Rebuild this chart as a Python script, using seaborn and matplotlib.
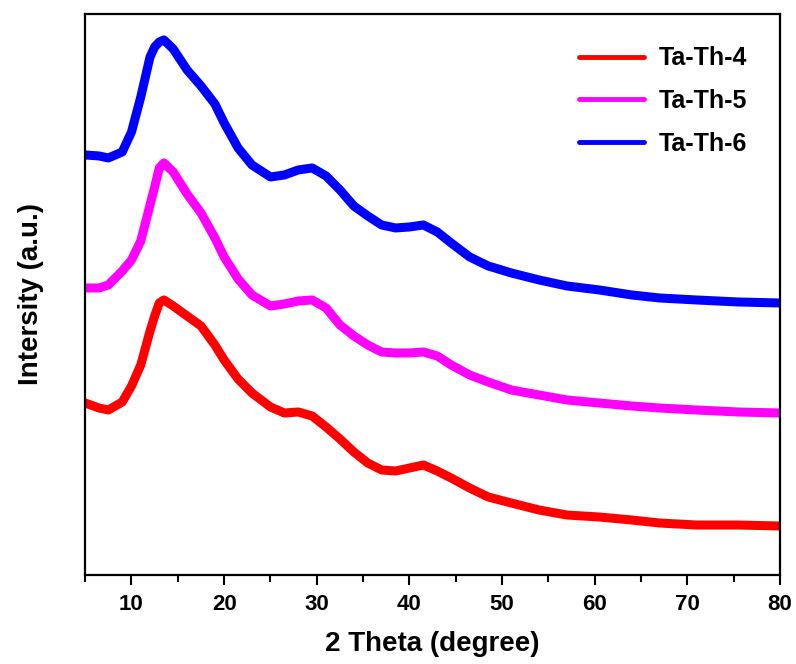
import numpy as np
import pandas as pd
import seaborn as sns
import matplotlib.pyplot as plt
from matplotlib.ticker import MultipleLocator

# 2 theta positions (degree)
two_theta = [5, 6.5, 7.5, 9, 10, 11, 12, 12.5, 13, 13.5, 14.5, 16, 17.5, 19, 20,
             21.5, 23, 25, 26.5, 28, 29.5, 31, 32.5, 34, 35.5, 37, 38.5, 40,
             41.5, 43, 44.5, 46.5, 48.5, 51, 54, 57, 60.5, 64, 67, 71, 75.5, 80]

# stacked intensities (a.u.), offsets included as plotted
ta_th_4 = [172, 167, 165, 173, 189, 210, 244, 259, 272, 275, 269, 259, 249, 230,
           215, 196, 182, 168, 162, 163, 159, 148, 136, 123, 112, 105, 104, 107,
           110, 104, 97, 87, 78, 72, 65, 60, 58, 55, 52, 50, 50, 49]
ta_th_5 = [287, 287, 290, 304, 315, 334, 370, 388, 407, 412, 403, 381, 362, 337,
           318, 296, 280, 269, 271, 274, 275, 267, 250, 239, 230, 223, 222, 222,
           223, 219, 210, 200, 193, 185, 180, 175, 172, 169, 167, 165, 163, 162]
ta_th_6 = [420, 419, 417, 423, 443, 478, 518, 528, 533, 535, 526, 505, 489, 471,
           452, 427, 410, 398, 400, 405, 407, 399, 385, 369, 359, 350, 347, 348,
           350, 343, 332, 318, 309, 302, 295, 289, 285, 280, 277, 275, 273, 272]

samples = ['Ta-Th-4', 'Ta-Th-5', 'Ta-Th-6']
colors = ['#ff0000', '#ff00ff', '#0000ff']

df = pd.DataFrame({
    'two_theta': two_theta * 3,
    'intensity': ta_th_4 + ta_th_5 + ta_th_6,
    'sample': np.repeat(samples, len(two_theta)),
})

sns.set_theme(style='ticks')
plt.rcParams['font.family'] = ['Liberation Sans', 'DejaVu Sans']
plt.rcParams['font.weight'] = 'bold'
plt.rcParams['text.color'] = 'black'
plt.rcParams['axes.labelcolor'] = 'black'
plt.rcParams['xtick.color'] = 'black'
plt.rcParams['ytick.color'] = 'black'

fig = plt.figure(figsize=(7.96, 6.64), dpi=100)
ax = fig.add_axes([0.107, 0.134, 0.873, 0.845])

sns.lineplot(data=df, x='two_theta', y='intensity', hue='sample',
             palette=dict(zip(samples, colors)), estimator=None, sort=False,
             linewidth=6.5, ax=ax)
for line in ax.lines:
    line.set_solid_joinstyle('round')
    line.set_solid_capstyle('round')

ax.set_xlim(5, 80)
ax.set_ylim(0, 561)
ax.xaxis.set_major_locator(MultipleLocator(10))
ax.xaxis.set_minor_locator(MultipleLocator(5))
ax.set_yticks([])
ax.tick_params(axis='x', which='major', direction='out', length=7, width=1.5,
               labelsize=16, pad=7)
ax.tick_params(axis='x', which='minor', direction='out', length=5, width=1.5)
for lab in ax.get_xticklabels():
    lab.set_fontweight('bold')
for sp in ax.spines.values():
    sp.set_linewidth(1.6)
    sp.set_color('black')

ax.set_xlabel('2 Theta (degree)', fontsize=20, fontweight='bold', labelpad=11)
ax.set_ylabel('Intersity (a.u.)', fontsize=20, fontweight='bold', labelpad=30)

leg = ax.legend(loc='upper right', frameon=False, fontsize=18, handlelength=2.6,
                labelspacing=0.75, handletextpad=0.6, borderaxespad=0.9)
for h in leg.get_lines():
    h.set_linewidth(3.5)
for t in leg.get_texts():
    t.set_fontweight('bold')
    t.set_color('black')

fig.savefig('out.png', dpi=100)
